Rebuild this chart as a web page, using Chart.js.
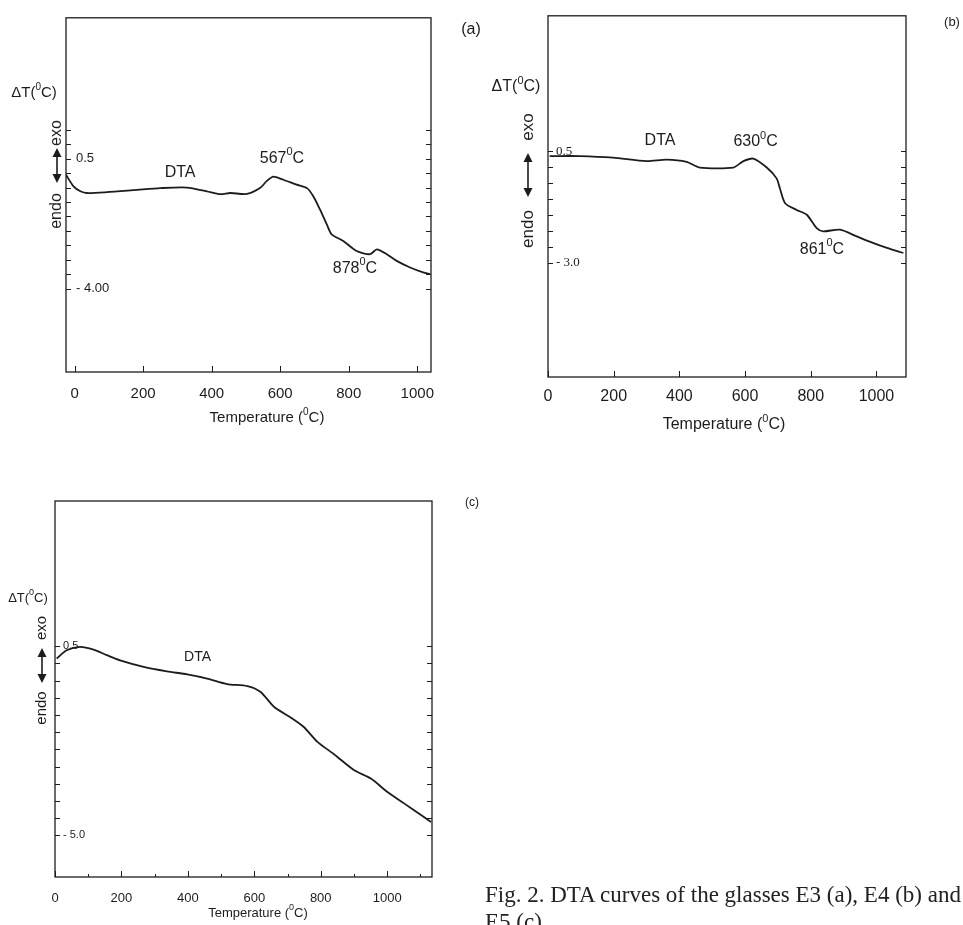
<!DOCTYPE html>
<html>
<head>
<meta charset="utf-8">
<script src="https://cdn.jsdelivr.net/npm/chart.js@4/dist/chart.umd.min.js"></script>
<style>
  body { margin: 0; background: #fff; }
  #page { position: relative; width: 963px; height: 925px; overflow: hidden; background: #fff; }
  canvas { position: absolute; }
  .caption {
    position: absolute; left: 485px; top: 881px; white-space: nowrap;
    font-family: "Liberation Serif", "Times New Roman", serif; font-size: 23px;
    line-height: 27px; color: #222;
  }
</style>
</head>
<body>
<div id="page">
  <canvas id="chartA" width="490" height="440" style="left:0;top:0"></canvas>
  <canvas id="chartB" width="483" height="440" style="left:480px;top:0"></canvas>
  <canvas id="chartC" width="490" height="445" style="left:0;top:480px"></canvas>
  <div class="caption">Fig. 2. DTA curves of the glasses E3 (a), E4 (b) and<br>E5 (c).</div>
</div>
<script>
// DTA curves (temperature in °C, ΔT in axis units)

// (a) glass E3
const tempA = [-25, -3, 17, 36, 94, 182, 250, 328, 386, 425, 454, 503, 541, 561, 580, 609, 648, 678, 697, 716, 736, 750, 784, 823, 862, 882, 911, 940, 979, 1017, 1037];
const dtaA  = [-0.06, -0.46, -0.63, -0.69, -0.66, -0.58, -0.52, -0.50, -0.63, -0.73, -0.69, -0.72, -0.52, -0.27, -0.12, -0.23, -0.40, -0.52, -0.81, -1.26, -1.78, -2.12, -2.35, -2.70, -2.81, -2.64, -2.81, -3.04, -3.27, -3.44, -3.50];

// (b) glass E4
const tempB = [5, 97, 198, 300, 361, 422, 462, 564, 595, 625, 666, 696, 706, 722, 757, 788, 818, 838, 889, 940, 991, 1032, 1082];
const dtaB  = [0.35, 0.35, 0.30, 0.19, 0.24, 0.17, -0.01, -0.01, 0.19, 0.27, -0.01, -0.35, -0.66, -1.13, -1.34, -1.49, -1.91, -2.01, -1.96, -2.17, -2.38, -2.53, -2.69];

// (c) glass E5
const tempC = [5, 35, 75, 116, 156, 196, 267, 337, 398, 458, 518, 579, 619, 659, 709, 749, 790, 840, 900, 951, 1001, 1051, 1102, 1132];
const dtaC  = [0.14, 0.38, 0.48, 0.40, 0.24, 0.09, -0.10, -0.23, -0.32, -0.44, -0.60, -0.66, -0.83, -1.26, -1.57, -1.85, -2.28, -2.64, -3.10, -3.35, -3.74, -4.07, -4.41, -4.61];

// tick values and labels
const xTicksA = [0, 200, 400, 600, 800, 1000];
const xTicksB = [0, 200, 400, 600, 800, 1000];
const xTicksC = [0, 200, 400, 600, 800, 1000];
const xMinorC = [100, 300, 500, 700, 900, 1100];
const yTicksA = [1.5, 1, 0.5, 0, -0.5, -1, -1.5, -2, -2.5, -3, -3.5, -4];
const yTicksB = [0.5, 0, -0.5, -1, -1.5, -2, -2.5, -3];
const yTicksC = [0.5, 0, -0.5, -1, -1.5, -2, -2.5, -3, -3.5, -4, -4.5, -5];
const yLabelValsA = [0.5, -4];   const yLabelTextA = ['0.5', '- 4.00'];
const yLabelValsB = [0.5, -3];   const yLabelTextB = ['0.5', '- 3.0'];
const yLabelValsC = [0.5, -5];   const yLabelTextC = ['0.5', '- 5.0'];

const SANS = '"Liberation Sans", Arial, sans-serif';
const SERIF = '"Liberation Serif", "Times New Roman", serif';
const INK = '#1c1c1c';

// text with a superscript part, centred on x
function drawSup(ctx, parts, x, y, size, family) {
  const f = size + 'px ' + family, fs = Math.round(size * 0.66) + 'px ' + family;
  ctx.font = f;
  const wa = ctx.measureText(parts[0]).width;
  const wb = parts[2] ? ctx.measureText(parts[2]).width : 0;
  ctx.font = fs;
  const ws = parts[1] ? ctx.measureText(parts[1]).width : 0;
  let cx = x - (wa + ws + wb) / 2;
  ctx.textAlign = 'left';
  ctx.textBaseline = 'middle';
  ctx.font = f; ctx.fillText(parts[0], cx, y); cx += wa;
  if (parts[1]) { ctx.font = fs; ctx.fillText(parts[1], cx, y - size * 0.4); cx += ws; }
  if (parts[2]) { ctx.font = f; ctx.fillText(parts[2], cx, y); }
}

function drawArrow(ctx, x, y1, y2) {
  const h = 8, w = 4.5;
  ctx.lineWidth = 1.6;
  ctx.beginPath(); ctx.moveTo(x, y1 + h); ctx.lineTo(x, y2 - h); ctx.stroke();
  ctx.beginPath(); ctx.moveTo(x, y1); ctx.lineTo(x - w, y1 + h + 1); ctx.lineTo(x + w, y1 + h + 1); ctx.closePath(); ctx.fill();
  ctx.beginPath(); ctx.moveTo(x, y2); ctx.lineTo(x - w, y2 - h - 1); ctx.lineTo(x + w, y2 - h - 1); ctx.closePath(); ctx.fill();
}

function rotText(ctx, text, x, y, size) {
  ctx.save();
  ctx.translate(x, y); ctx.rotate(-Math.PI / 2);
  ctx.font = size + 'px ' + SANS;
  ctx.textAlign = 'center'; ctx.textBaseline = 'middle';
  ctx.fillText(text, 0, 0);
  ctx.restore();
}

// box, inward ticks and all the lettering
const decor = {
  id: 'decor',
  afterDraw(chart) {
    const p = chart.options.plugins.decor;
    const ctx = chart.ctx, a = chart.chartArea;
    const xs = chart.scales.x, ys = chart.scales.y;
    ctx.save();
    ctx.strokeStyle = INK; ctx.fillStyle = INK;
    ctx.lineWidth = 1.3;
    ctx.strokeRect(a.left, a.top, a.right - a.left, a.bottom - a.top);
    ctx.lineWidth = 1;
    ctx.beginPath();
    p.yTicks.forEach(v => {
      const py = Math.round(ys.getPixelForValue(v)) + 0.5;
      ctx.moveTo(a.left, py); ctx.lineTo(a.left + 5, py);
      ctx.moveTo(a.right, py); ctx.lineTo(a.right - 5, py);
    });
    p.xTicks.forEach(v => {
      const px = Math.round(xs.getPixelForValue(v)) + 0.5;
      ctx.moveTo(px, a.bottom); ctx.lineTo(px, a.bottom - 6);
    });
    (p.xMinor || []).forEach(v => {
      const px = Math.round(xs.getPixelForValue(v)) + 0.5;
      ctx.moveTo(px, a.bottom); ctx.lineTo(px, a.bottom - 3);
    });
    ctx.stroke();

    // notes placed on the data axes
    p.notes.forEach(n => {
      drawSup(ctx, n.parts, xs.getPixelForValue(n.x), ys.getPixelForValue(n.y), n.size, SANS);
    });
    // side lettering in canvas pixels
    const s = p.side;
    drawSup(ctx, ['\u0394T(', '0', 'C)'], s.dt[0], s.dt[1], s.dtSize, SANS);
    rotText(ctx, 'exo', s.exo[0], s.exo[1], s.sideSize);
    rotText(ctx, 'endo', s.endo[0], s.endo[1], s.sideSize);
    drawArrow(ctx, s.arrow[0], s.arrow[1], s.arrow[2]);
    ctx.font = s.tagSize + 'px ' + SANS;
    ctx.textAlign = 'center'; ctx.textBaseline = 'middle';
    ctx.fillText(s.tag, s.tagPos[0], s.tagPos[1]);
    drawSup(ctx, ['Temperature (', '0', 'C)'], s.title[0], s.title[1], s.titleSize, SANS);
    ctx.restore();
  }
};

function makeChart(cfg) {
  const ctx = document.getElementById(cfg.canvas).getContext('2d');
  const points = cfg.temps.map((t, i) => ({ x: t, y: cfg.values[i] }));
  return new Chart(ctx, {
    type: 'line',
    data: {
      datasets: [{
        data: points,
        borderColor: INK,
        borderWidth: 1.8,
        pointRadius: 0,
        tension: 0.25,
        fill: false
      }]
    },
    options: {
      responsive: false,
      animation: false,
      devicePixelRatio: 1,
      layout: { padding: { top: cfg.pad.top, right: cfg.pad.right, left: 0, bottom: 0 } },
      plugins: {
        legend: { display: false },
        tooltip: { enabled: false },
        decor: cfg.decor
      },
      scales: {
        x: {
          type: 'linear',
          min: cfg.xMin, max: cfg.xMax,
          grid: { display: false, drawTicks: false },
          border: { display: false },
          afterBuildTicks: sc => { sc.ticks = cfg.decor.xTicks.map(v => ({ value: v })); },
          afterFit: sc => { sc.height = cfg.pad.xAxis; },
          ticks: {
            color: INK, padding: cfg.xPad, maxRotation: 0, autoSkip: false,
            font: { family: cfg.xFont, size: cfg.xSize },
            callback: v => String(v)
          }
        },
        y: {
          type: 'linear',
          min: cfg.yMin, max: cfg.yMax,
          grid: { display: false, drawTicks: false },
          border: { display: false },
          afterBuildTicks: sc => { sc.ticks = cfg.decor.yTicks.map(v => ({ value: v })); },
          afterFit: sc => { sc.width = cfg.pad.yAxis; },
          ticks: {
            mirror: true, padding: cfg.yPad, color: INK, autoSkip: false,
            font: { family: cfg.yFont, size: cfg.ySize },
            callback: v => {
              const i = cfg.yLabelVals.indexOf(v);
              return i >= 0 ? cfg.yLabelText[i] : '';
            }
          }
        }
      }
    },
    plugins: [decor]
  });
}

makeChart({
  canvas: 'chartA', temps: tempA, values: dtaA,
  xMin: -25, xMax: 1040, yMin: -6.89, yMax: 5.38,
  pad: { top: 15, right: 59, yAxis: 66, xAxis: 68 },
  xPad: 13, xFont: SANS, xSize: 15,
  yPad: 10, yFont: SANS, ySize: 13,
  yLabelVals: yLabelValsA, yLabelText: yLabelTextA,
  decor: {
    xTicks: xTicksA, yTicks: yTicksA,
    notes: [
      { parts: ['DTA'], x: 308, y: 0.02, size: 16 },
      { parts: ['567', '0', 'C'], x: 605, y: 0.5, size: 16 },
      { parts: ['878', '0', 'C'], x: 818, y: -3.31, size: 16 }
    ],
    side: {
      dt: [34, 93], dtSize: 15, exo: [57, 133], endo: [57, 211], sideSize: 16,
      arrow: [57, 148, 183], tag: '(a)', tagPos: [471, 30], tagSize: 16,
      title: [267, 418], titleSize: 15
    }
  }
});

makeChart({
  canvas: 'chartB', temps: tempB, values: dtaB,
  xMin: 0, xMax: 1090, yMin: -6.58, yMax: 4.75,
  pad: { top: 13, right: 57, yAxis: 68, xAxis: 63 },
  xPad: 10, xFont: SANS, xSize: 16,
  yPad: 8, yFont: SERIF, ySize: 13,
  yLabelVals: yLabelValsB, yLabelText: yLabelTextB,
  decor: {
    xTicks: xTicksB, yTicks: yTicksB,
    notes: [
      { parts: ['DTA'], x: 341, y: 0.85, size: 16 },
      { parts: ['630', '0', 'C'], x: 632, y: 0.79, size: 16 },
      { parts: ['861', '0', 'C'], x: 834, y: -2.57, size: 16 }
    ],
    side: {
      dt: [36, 87], dtSize: 16, exo: [48, 127], endo: [48, 229], sideSize: 17,
      arrow: [48, 153, 197], tag: '(b)', tagPos: [472, 22], tagSize: 13,
      title: [244, 425], titleSize: 16
    }
  }
});

makeChart({
  canvas: 'chartC', temps: tempC, values: dtaC,
  xMin: 0, xMax: 1135, yMin: -6.21, yMax: 4.72,
  pad: { top: 21, right: 58, yAxis: 55, xAxis: 48 },
  xPad: 14, xFont: SANS, xSize: 13,
  yPad: 8, yFont: SANS, ySize: 11,
  yLabelVals: yLabelValsC, yLabelText: yLabelTextC,
  decor: {
    xTicks: xTicksC, xMinor: xMinorC, yTicks: yTicksC,
    notes: [
      { parts: ['DTA'], x: 429, y: 0.19, size: 14 }
    ],
    side: {
      dt: [28, 118], dtSize: 13, exo: [42, 148], endo: [42, 228], sideSize: 15,
      arrow: [42, 168, 203], tag: '(c)', tagPos: [472, 23], tagSize: 12,
      title: [258, 433], titleSize: 13
    }
  }
});
</script>
</body>
</html>
